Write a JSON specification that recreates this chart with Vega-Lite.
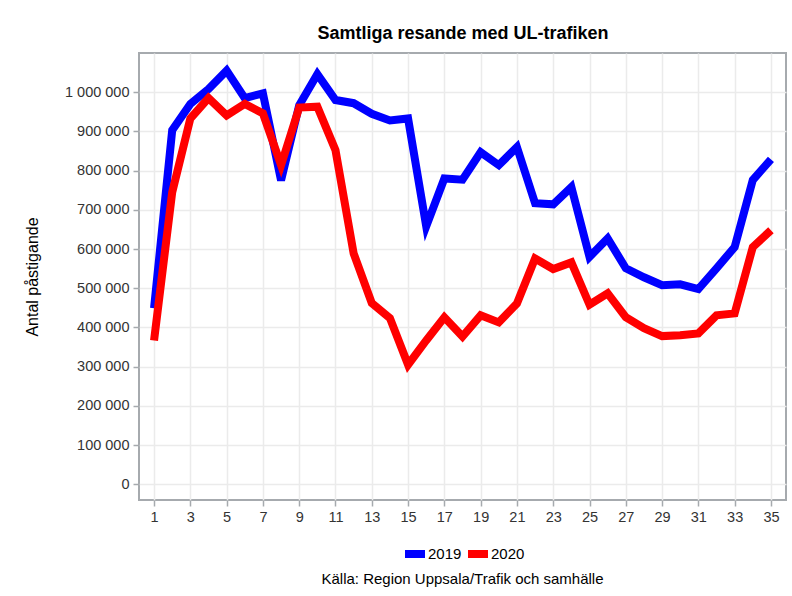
{
  "$schema": "https://vega.github.io/schema/vega-lite/v6.json",
  "width": 647,
  "height": 447,
  "autosize": "none",
  "padding": {"left": 139, "top": 53, "right": 6, "bottom": 96},
  "background": "white",
  "config": {
    "font": "Liberation Sans",
    "view": {"stroke": "#a6aaae", "strokeWidth": 2},
    "axis": {"labelFont": "Liberation Sans", "titleFont": "Liberation Sans"},
    "legend": {"layout": {"bottom": {"anchor": "middle"}}}
  },
  "title": {
    "text": "Källa: Region Uppsala/Trafik och samhälle",
    "orient": "bottom",
    "anchor": "middle",
    "frame": "group",
    "font": "Liberation Sans",
    "fontSize": 15,
    "fontWeight": "normal",
    "color": "#000000",
    "offset": 2
  },
  "data": {
    "values": [
      {"week": 1, "year": "2019", "value": 449000},
      {"week": 2, "year": "2019", "value": 903000},
      {"week": 3, "year": "2019", "value": 970000},
      {"week": 4, "year": "2019", "value": 1008000},
      {"week": 5, "year": "2019", "value": 1055000},
      {"week": 6, "year": "2019", "value": 985000},
      {"week": 7, "year": "2019", "value": 997000},
      {"week": 8, "year": "2019", "value": 775000},
      {"week": 9, "year": "2019", "value": 967000},
      {"week": 10, "year": "2019", "value": 1046000},
      {"week": 11, "year": "2019", "value": 980000},
      {"week": 12, "year": "2019", "value": 972000},
      {"week": 13, "year": "2019", "value": 945000},
      {"week": 14, "year": "2019", "value": 928000},
      {"week": 15, "year": "2019", "value": 933000},
      {"week": 16, "year": "2019", "value": 658000},
      {"week": 17, "year": "2019", "value": 780000},
      {"week": 18, "year": "2019", "value": 777000},
      {"week": 19, "year": "2019", "value": 847000},
      {"week": 20, "year": "2019", "value": 814000},
      {"week": 21, "year": "2019", "value": 860000},
      {"week": 22, "year": "2019", "value": 717000},
      {"week": 23, "year": "2019", "value": 714000},
      {"week": 24, "year": "2019", "value": 758000},
      {"week": 25, "year": "2019", "value": 580000},
      {"week": 26, "year": "2019", "value": 627000},
      {"week": 27, "year": "2019", "value": 551000},
      {"week": 28, "year": "2019", "value": 528000},
      {"week": 29, "year": "2019", "value": 508000},
      {"week": 30, "year": "2019", "value": 510000},
      {"week": 31, "year": "2019", "value": 498000},
      {"week": 32, "year": "2019", "value": 551000},
      {"week": 33, "year": "2019", "value": 605000},
      {"week": 34, "year": "2019", "value": 776000},
      {"week": 35, "year": "2019", "value": 829000},
      {"week": 1, "year": "2020", "value": 367000},
      {"week": 2, "year": "2020", "value": 745000},
      {"week": 3, "year": "2020", "value": 933000},
      {"week": 4, "year": "2020", "value": 985000},
      {"week": 5, "year": "2020", "value": 941000},
      {"week": 6, "year": "2020", "value": 970000},
      {"week": 7, "year": "2020", "value": 946000},
      {"week": 8, "year": "2020", "value": 814000},
      {"week": 9, "year": "2020", "value": 961000},
      {"week": 10, "year": "2020", "value": 963000},
      {"week": 11, "year": "2020", "value": 852000},
      {"week": 12, "year": "2020", "value": 589000},
      {"week": 13, "year": "2020", "value": 462000},
      {"week": 14, "year": "2020", "value": 424000},
      {"week": 15, "year": "2020", "value": 305000},
      {"week": 16, "year": "2020", "value": 367000},
      {"week": 17, "year": "2020", "value": 426000},
      {"week": 18, "year": "2020", "value": 377000},
      {"week": 19, "year": "2020", "value": 431000},
      {"week": 20, "year": "2020", "value": 413000},
      {"week": 21, "year": "2020", "value": 461000},
      {"week": 22, "year": "2020", "value": 576000},
      {"week": 23, "year": "2020", "value": 549000},
      {"week": 24, "year": "2020", "value": 566000},
      {"week": 25, "year": "2020", "value": 458000},
      {"week": 26, "year": "2020", "value": 487000},
      {"week": 27, "year": "2020", "value": 426000},
      {"week": 28, "year": "2020", "value": 398000},
      {"week": 29, "year": "2020", "value": 378000},
      {"week": 30, "year": "2020", "value": 380000},
      {"week": 31, "year": "2020", "value": 385000},
      {"week": 32, "year": "2020", "value": 431000},
      {"week": 33, "year": "2020", "value": 436000},
      {"week": 34, "year": "2020", "value": 605000},
      {"week": 35, "year": "2020", "value": 648000}
    ]
  },
  "encoding": {
    "y": {
      "field": "value",
      "type": "quantitative",
      "scale": {"domain": [-40000, 1100000], "nice": false, "zero": false},
      "axis": {
        "title": "Antal påstigande",
        "titleFontSize": 16,
        "titleFontWeight": "normal",
        "titleColor": "#000000",
        "titlePadding": 24,
        "values": [0, 100000, 200000, 300000, 400000, 500000, 600000, 700000, 800000, 900000, 1000000],
        "format": ",d",
        "labelExpr": "replace(datum.label, /,/g, ' ')",
        "labelFontSize": 14.5,
        "labelColor": "#333333",
        "labelPadding": 4,
        "tickSize": 6,
        "tickColor": "#a6aaae",
        "tickWidth": 1.5,
        "domain": false,
        "grid": true,
        "gridColor": "#ebebeb",
        "gridWidth": 1.5
      }
    }
  },
  "layer": [
    {
      "mark": {"type": "line", "strokeWidth": 8, "clip": true},
      "encoding": {
        "x": {
          "field": "week",
          "type": "quantitative",
          "scale": {"domain": [0.17, 35.83], "nice": false, "zero": false},
          "axis": {
            "orient": "bottom",
            "title": null,
            "values": [1, 3, 5, 7, 9, 11, 13, 15, 17, 19, 21, 23, 25, 27, 29, 31, 33, 35],
            "labelFontSize": 14.5,
            "labelColor": "#333333",
            "labelPadding": 4,
            "tickSize": 6,
            "tickColor": "#a6aaae",
            "tickWidth": 1.5,
            "domain": false,
            "grid": true,
            "gridColor": "#ebebeb",
            "gridWidth": 1.5
          }
        },
        "color": {
          "field": "year",
          "type": "nominal",
          "scale": {"domain": ["2019", "2020"], "range": ["#0000ff", "#ff0000"]},
          "legend": {
            "orient": "bottom",
            "direction": "horizontal",
            "title": null,
            "symbolType": "stroke",
            "symbolSize": 400,
            "symbolStrokeWidth": 8,
            "labelFontSize": 15,
            "labelColor": "#000000",
            "labelOffset": -1,
            "columnPadding": -10,
            "offset": 16
          }
        }
      }
    },
    {
      "mark": {"type": "line", "opacity": 0, "strokeWidth": 0},
      "encoding": {
        "x": {
          "field": "week",
          "type": "quantitative",
          "scale": {"domain": [0.17, 35.83], "nice": false, "zero": false},
          "axis": {
            "orient": "top",
            "title": "Samtliga resande med UL-trafiken",
            "titleFontSize": 18,
            "titleFontWeight": "bold",
            "titleColor": "#000000",
            "titlePadding": 11,
            "labels": false,
            "ticks": false,
            "domain": false,
            "grid": false
          }
        },
        "detail": {"field": "year"}
      }
    }
  ]
}
